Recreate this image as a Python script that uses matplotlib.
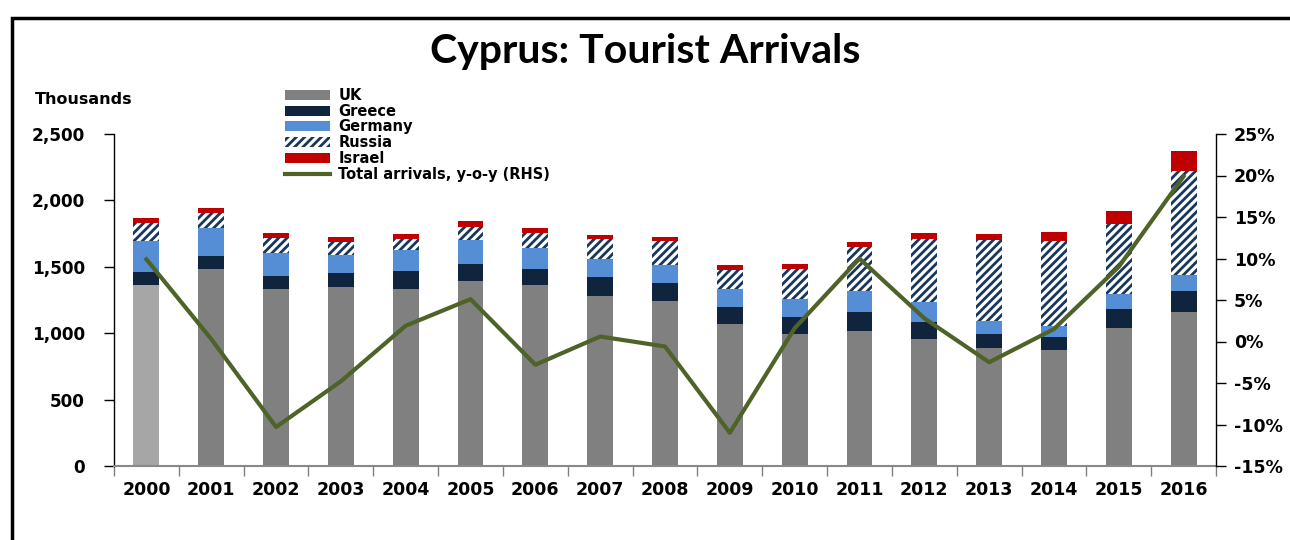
"""
plot.py
Cyprus tourist arrivals by origin, with total y-o-y growth
"""
import numpy
import matplotlib
matplotlib.use('Agg')
import matplotlib.pyplot as plt
from matplotlib.patches import Rectangle
from matplotlib.ticker import FuncFormatter

years = ['2000', '2001', '2002', '2003', '2004', '2005', '2006', '2007', '2008',
         '2009', '2010', '2011', '2012', '2013', '2014', '2015', '2016']

# thousands of arrivals
uk      = [1363, 1483, 1335, 1348, 1330, 1391, 1363, 1280, 1243, 1069, 994, 1019, 956, 888, 871, 1037, 1157]
greece  = [95, 96, 96, 105, 136, 130, 120, 143, 135, 131, 125, 138, 131, 106, 98, 143, 158]
germany = [239, 211, 173, 133, 163, 183, 156, 136, 138, 130, 141, 161, 151, 98, 85, 113, 126]
russia  = [131, 115, 110, 103, 80, 96, 113, 150, 181, 149, 223, 334, 471, 610, 638, 527, 780]
israel  = [39, 38, 38, 33, 38, 45, 38, 30, 30, 33, 38, 32, 43, 45, 70, 100, 151]

# total arrivals, y-o-y %
total_yoy = [9.9, 0.3, -10.3, -4.8, 1.9, 5.1, -2.8, 0.6, -0.6, -11.0, 1.6, 10.0, 2.8, -2.5, 1.5, 9.0, 19.9]

plt.rcParams['hatch.linewidth'] = 2.0
plt.rcParams['font.weight'] = 'bold'

fig = plt.figure(figsize=(12.9, 5.4), dpi=100)
ax = fig.add_axes([114/1290, 74/540, 1102/1290, 332/540])

x = numpy.arange(len(years))
w = 0.4
uk_colors = ['#a6a6a6'] + ['#808080'] * (len(years) - 1)

bottom = numpy.zeros(len(years))
ax.bar(x, uk, w, bottom=bottom, color=uk_colors, linewidth=0, label='UK')
bottom += uk
ax.bar(x, greece, w, bottom=bottom, color='#10243e', linewidth=0, label='Greece')
bottom += greece
ax.bar(x, germany, w, bottom=bottom, color='#558ed5', linewidth=0, label='Germany')
bottom += germany
ax.bar(x, russia, w, bottom=bottom, color='white', edgecolor='#17375e', hatch='////', linewidth=0, label='Russia')
bottom += russia
ax.bar(x, israel, w, bottom=bottom, color='#c00000', linewidth=0, label='Israel')

ax.set_xlim(-0.5, len(years) - 0.5)
ax.set_ylim(0, 2500)
ax.set_yticks(range(0, 2501, 500))
ax.yaxis.set_major_formatter(FuncFormatter(lambda v, pos: '{:,.0f}'.format(v)))
ax.tick_params(axis='y', direction='out', length=7, width=1, pad=14, labelsize=12.2)

# category boundaries get the tick marks, the labels sit in between
ax.set_xticks(numpy.arange(-0.5, len(years), 1))
ax.set_xticklabels([])
ax.set_xticks(x, minor=True)
ax.set_xticklabels(years, minor=True, fontsize=12.5, fontweight='bold')
ax.tick_params(axis='x', which='major', direction='out', length=7, width=1, color='#808080')
ax.tick_params(axis='x', which='minor', length=0, pad=11)

ax.spines['top'].set_visible(False)
ax.spines['right'].set_visible(False)
ax.spines['bottom'].set_color('#898989')
ax.spines['bottom'].set_linewidth(1.5)
ax.spines['left'].set_linewidth(1)

ax2 = ax.twinx()
ax2.plot(x, total_yoy, color='#4f6228', linewidth=3, label='Total arrivals, y-o-y (RHS)')
ax2.set_ylim(-15, 25)
ax2.set_yticks(range(-15, 26, 5))
ax2.yaxis.set_major_formatter(FuncFormatter(lambda v, pos: '{:.0f}%'.format(v)))
ax2.tick_params(axis='y', direction='out', length=7, width=1, pad=6, labelsize=12.5)
ax2.spines['top'].set_visible(False)
ax2.spines['left'].set_visible(False)
ax2.spines['bottom'].set_visible(False)
ax2.spines['right'].set_linewidth(1)

h1, l1 = ax.get_legend_handles_labels()
h2, l2 = ax2.get_legend_handles_labels()
leg = ax2.legend(h1 + h2, l1 + l2, loc='upper left', bbox_to_anchor=(285/1290, 1 - 88/540),
                 bbox_transform=fig.transFigure, frameon=False, fontsize=10.5,
                 handlelength=3.1, handleheight=0.7, handletextpad=0.55,
                 labelspacing=0.05, borderpad=0, borderaxespad=0)
for t in leg.get_texts():
    t.set_fontweight('bold')
# the legend swatch for UK should be the regular grey, not the 2000 one
leg.legend_handles[0].set_facecolor('#808080')

fig.text(0.5, 1 - 52/540, 'Cyprus: Tourist Arrivals', ha='center', va='center',
         fontsize=29.5, fontweight='bold', family='Lato')
fig.text(35/1290, 1 - 100/540, 'Thousands', ha='left', va='center', fontsize=11.5, fontweight='bold')

# frame around the whole chart, running off the right and bottom edges
fig.patches.append(Rectangle((12/1290, -0.05), 1.1, 1 - 18/540 + 0.05, transform=fig.transFigure,
                             fill=False, edgecolor='black', linewidth=2.5))

fig.savefig('out.png', dpi=100)
